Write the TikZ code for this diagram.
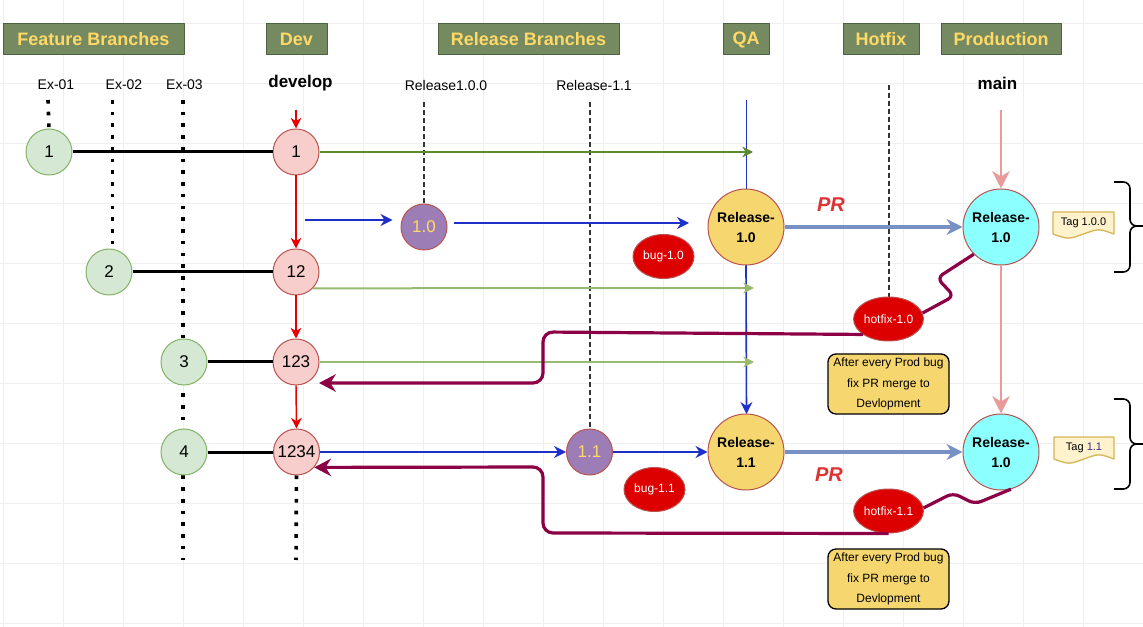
\documentclass[tikz,border=0pt]{standalone}
\usepackage{fontspec}
\setmainfont{Liberation Sans}
\usetikzlibrary{arrows.meta,shapes.geometric}

\definecolor{featfill}{HTML}{D5E8D4}
\definecolor{featedge}{HTML}{82B366}
\definecolor{devfill}{HTML}{F8CECC}
\definecolor{devedge}{HTML}{B85450}
\definecolor{relfill}{HTML}{9D7DB5}
\definecolor{reltext}{HTML}{FFD966}
\definecolor{qafill}{HTML}{F6D76F}
\definecolor{prodfill}{HTML}{8CFFFF}
\definecolor{bugfill}{HTML}{DD0000}
\definecolor{hdrfill}{HTML}{768A62}
\definecolor{hdredge}{HTML}{4B6340}
\definecolor{hdrtext}{HTML}{FFD966}
\definecolor{tagfill}{HTML}{FFF2CC}
\definecolor{tagedge}{HTML}{D6B656}
\definecolor{tagnum}{HTML}{3C2C8C}
\definecolor{devred}{HTML}{E80000}
\definecolor{qablue}{HTML}{1F30C8}
\definecolor{dkgreen}{HTML}{5C8A30}
\definecolor{ltgreen}{HTML}{98BA70}
\definecolor{prblue}{HTML}{7891C4}
\definecolor{prodpink}{HTML}{E99A9A}
\definecolor{hfmaroon}{HTML}{8C0046}
\definecolor{prred}{HTML}{DD3333}
\definecolor{dashgray}{HTML}{333333}
\definecolor{gridgray}{HTML}{EFEFEF}

\tikzset{every node/.style={circle,draw,inner sep=0pt,align=center,line width=0.75pt}}
\tikzset{txt/.style={rectangle,draw=none}}
\tikzset{hdr/.style={rectangle,fill=hdrfill,draw=hdredge,text=hdrtext,minimum height=23.25pt,font=\bfseries\fontsize{13.5}{15}\selectfont}}
\tikzset{lbl/.style={txt,font=\fontsize{10.5}{12}\selectfont}}
\tikzset{blbl/.style={txt,font=\bfseries\fontsize{12.75}{14}\selectfont}}
\tikzset{feat/.style={fill=featfill,draw=featedge,minimum size=34.5pt,font=\fontsize{12.75}{14}\selectfont}}
\tikzset{devc/.style={fill=devfill,draw=devedge,minimum size=34.5pt,font=\fontsize{12.75}{14}\selectfont}}
\tikzset{relc/.style={fill=relfill,draw=devedge,text=reltext,minimum size=34.5pt,font=\fontsize{12.75}{14}\selectfont}}
\tikzset{bigc/.style={draw=devedge,minimum size=57pt,font=\bfseries\fontsize{10.5}{15}\selectfont}}
\tikzset{qac/.style={bigc,fill=qafill}}
\tikzset{prodc/.style={bigc,fill=prodfill}}
\tikzset{bugc/.style={ellipse,fill=bugfill,draw=devedge,text=white,minimum width=45.75pt,minimum height=33pt,font=\fontsize{9}{11}\selectfont}}
\tikzset{note/.style={rectangle,rounded corners=6pt,fill=qafill,draw=black,line width=1pt,minimum width=90.75pt,minimum height=45pt,font=\fontsize{9}{15.5}\selectfont}}
\tikzset{prlbl/.style={txt,text=prred,font=\bfseries\itshape\fontsize{15}{17}\selectfont}}
\tikzset{taglbl/.style={txt,font=\fontsize{8.25}{10}\selectfont}}
\tikzset{tagbox/.style={fill=tagfill,draw=tagedge,line width=1pt}}

\tikzset{gridln/.style={draw=gridgray,line width=0.6pt}}
\tikzset{fline/.style={draw=black,line width=2.25pt}}
\tikzset{dots/.style={draw=black,line width=2.7pt,dash pattern=on 2.7pt off 6.1pt}}
\tikzset{dashln/.style={draw=dashgray,line width=1.5pt,dash pattern=on 3.5pt off 2.5pt}}
\tikzset{devarr/.style={draw=devred,line width=1.1pt,-{Stealth[length=8pt,width=8pt,inset=2.5pt]}}}
\tikzset{bluearr/.style={draw=qablue,line width=1.2pt,-{Stealth[length=9pt,width=9pt,inset=3pt]}}}
\tikzset{grnarr/.style={draw=dkgreen,line width=1.5pt,-{Stealth[length=8pt,width=8pt,inset=2.5pt]}}}
\tikzset{lgrnarr/.style={draw=ltgreen,line width=1.5pt,-{Stealth[length=8pt,width=8pt,inset=2.5pt]}}}
\tikzset{prarr/.style={draw=prblue,line width=2.4pt,-{Stealth[length=12pt,width=12pt,inset=4pt]}}}
\tikzset{pinkarr/.style={draw=prodpink,line width=2.2pt,-{Stealth[length=13pt,width=13pt,inset=4pt]}}}
\tikzset{hfline/.style={draw=hfmaroon,line width=2.4pt,rounded corners=7.5pt}}
\tikzset{hfmerge/.style={hfline,-{Stealth[length=12.5pt,width=13pt,inset=4pt]}}}
\tikzset{brc/.style={draw=black,line width=1.2pt,rounded corners=5pt}}

\begin{document}
\begin{tikzpicture}[x=0.75pt,y=-0.75pt,line join=round]
      \useasboundingbox (0,0) rectangle (1143,627);
      \fill[white] (0,0) rectangle (1143,627);
      % background grid
      \foreach \gx in {3,63,...,1143} \draw[gridln] (\gx,0) -- (\gx,627);
      \foreach \gy in {23,83,...,623} \draw[gridln] (0,\gy) -- (1143,\gy);

      % lane headers
      \node[hdr,minimum width=135.75pt] (hFeat) at (93.5,39.5) {Feature Branches};
      \node[hdr,minimum width=45.75pt] (hDev) at (296.5,39.5) {Dev};
      \node[hdr,minimum width=135.75pt] (hRel) at (528.5,39.5) {Release Branches};
      \node[hdr,minimum width=34.5pt] (hQA) at (746,39.5) {QA};
      \node[hdr,minimum width=57pt] (hHot) at (881,39.5) {Hotfix};
      \node[hdr,minimum width=90pt] (hProd) at (1001,39.5) {Production};

      % branch names
      \node[lbl] (lEx1) at (56,85) {Ex-01};
      \node[lbl] (lEx2) at (124,85) {Ex-02};
      \node[lbl] (lEx3) at (184.5,85) {Ex-03};
      \node[blbl] (lDev) at (300.5,83) {develop};
      \node[lbl] (lR10) at (446,85) {Release1.0.0};
      \node[lbl] (lR11) at (594,85) {Release-1.1};
      \node[blbl] (lMain) at (997.5,83) {main};

      % lane ends
      \coordinate (e1top) at (48,100);
      \coordinate (e2top) at (112.5,100);
      \coordinate (e2bot) at (112.5,250);
      \coordinate (e3top) at (183,100);
      \coordinate (e3bot) at (183,560);
      \coordinate (dvtop) at (296,110);
      \coordinate (dvbot) at (296,560);
      \coordinate (r10top) at (424,102);
      \coordinate (r11top) at (589.5,102);
      \coordinate (hftop) at (888.5,85);
      \coordinate (qatop) at (746.5,100);
      \coordinate (pdtop) at (1001,110);

      \draw[dots] (e2top) -- (e2bot);
      \draw[dots] (e3top) -- (e3bot);
      \draw[qablue,line width=1.2pt] (qatop) -- (746.5,300);

      % feature commits
      \node[feat] (f1) at (49,152) {1};
      \node[feat] (f2) at (109,272) {2};
      \node[feat] (f3) at (184,362) {3};
      \node[feat] (f4) at (184,452) {4};
      % develop commits
      \node[devc] (d1) at (296,152) {1};
      \node[devc] (d12) at (296,272) {12};
      \node[devc] (d123) at (296,362) {123};
      \node[devc] (d1234) at (296.5,452) {1234};
      % release branches
      \node[relc] (r10) at (424,227) {1.0};
      \node[relc] (r11) at (589.5,452) {1.1};

      \draw[dots] (e1top) -- (f1.north);
      \draw[dots] (d1234.south) -- (dvbot);
      \draw[dashln] (r10top) -- (r10.north);
      \draw[dashln] (r11top) -- (r11.north);
      \draw[dashln] (hftop) -- (888.5,297);

      \draw[fline] (f1.east) -- (d1.west);
      \draw[fline] (f2.east) -- (d12.west);
      \draw[fline] (f3.east) -- (d123.west);
      \draw[fline] (f4.east) -- (d1234.west);

      \draw[devarr] (dvtop) -- (d1.north);
      \draw[devarr] (d1.south) -- (d12.north);
      \draw[devarr] (d12.south) -- (d123.north);
      \draw[devarr] (d123.south) -- (d1234.north);

      % QA lane
      \node[qac] (qa10) at (746,227) {Release-\\1.0};
      \draw[bluearr] (qa10.south) -- (746.5,414);
      \node[qac] (qa11) at (746,452) {Release-\\1.1};
      % production lane
      \node[prodc] (p10) at (1001,227) {Release-\\1.0};
      \node[prodc] (p11) at (1001,452) {Release-\\1.0};
      \draw[pinkarr] (pdtop) -- (p10.north);
      \draw[pinkarr] (p10.south) -- (p11.north);

      % merges towards QA
      \coordinate (g1) at (753,152);
      \coordinate (g2) at (754,288);
      \coordinate (g3) at (754,362);
      \draw[grnarr] (d1.east) -- (g1);
      \draw[lgrnarr] (d12.-44) -- (g2);
      \draw[lgrnarr] (d123.east) -- (g3);

      \coordinate (b0) at (305,220);
      \coordinate (b1) at (454,223);
      \coordinate (b2) at (689,223);
      \draw[bluearr,shorten >=6pt] (b0) -- (b0 -| r10.west);
      \draw[bluearr] (b1) -- (b2);
      \draw[bluearr] (d1234.east) -- (r11.west);
      \draw[bluearr] (r11.east) -- (qa11.west);

      \draw[prarr] (qa10.east) -- (p10.west);
      \draw[prarr] (qa11.east) -- (p11.west);
      \node[prlbl] (pr1) at (831,205) {PR};
      \node[prlbl] (pr2) at (829,475) {PR};

      % bugs and hotfixes
      \node[bugc] (bug10) at (663.5,256.5) {bug-1.0};
      \node[bugc] (bug11) at (654.5,489.5) {bug-1.1};
      \node[bugc] (hf10) at (888.5,319) {hotfix-1.0};
      \node[bugc] (hf11) at (888.5,511) {hotfix-1.1};

      \coordinate (m1) at (319,383);
      \draw[hfmerge] (hf10.211) -- (543,332) -- (543,383) -- (m1);
      \draw[hfmerge] (hf11.south) -- (543,533) -- (543,467) -- (d1234.-41);
      \draw[hfline,rounded corners=5pt] (hf10.10) -- (954,296) -- (937,278) -- (p10.225);
      \draw[hfline,rounded corners=5pt] (hf11.5) -- (953,493) -- (975,504) -- (p11.-75);

      \node[note] (n1) at (888.5,384) {After every Prod bug\\fix PR merge to\\Devlopment};
      \node[note] (n2) at (888.5,579) {After every Prod bug\\fix PR merge to\\Devlopment};

      % tags
      \draw[tagbox] (1053,212) -- (1114,212) -- (1114,234) .. controls (1098.75,228.5) .. (1083.5,234) .. controls (1068.25,239.5) .. (1053,234) -- cycle;
      \draw[tagbox] (1054,437) -- (1114,437) -- (1114,459) .. controls (1099,453.5) .. (1084,459) .. controls (1069,464.5) .. (1054,459) -- cycle;
      \node[taglbl] (tag1) at (1083.5,223) {Tag 1.0.0};
      \node[taglbl] (tag2) at (1084,448) {Tag \textcolor{tagnum}{1.1}};

      \draw[brc] (1114,182) -- (1130,182) -- (1130,226) -- (1145,226);
      \draw[brc] (1114,272) -- (1130,272) -- (1130,226) -- (1145,226);
      \draw[brc] (1114,399) -- (1130,399) -- (1130,444) -- (1145,444);
      \draw[brc] (1114,489) -- (1130,489) -- (1130,444) -- (1145,444);
    \end{tikzpicture}
\end{document}
